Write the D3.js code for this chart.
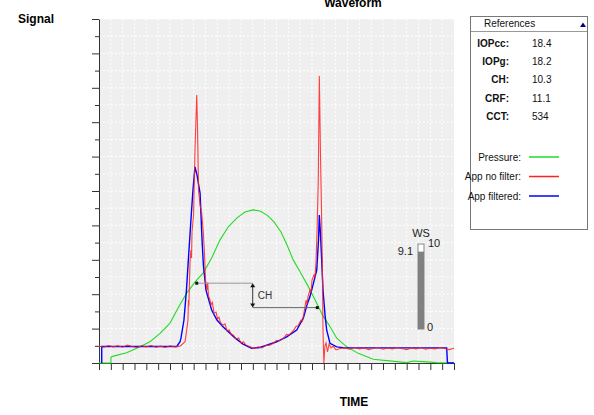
<!DOCTYPE html>
<html>
<head>
<meta charset="utf-8">
<script src="https://cdn.jsdelivr.net/npm/d3@7"></script>
<style>
  body { margin: 0; background: #fff; }
  svg { display: block; font-family: "Liberation Sans", Arial, sans-serif; }
  .narrow { font-family: "Liberation Sans Narrow", "Arial Narrow", "Liberation Sans", sans-serif; }
</style>
</head>
<body>
<svg id="chart" width="594" height="415"></svg>
<script>
// samples on x (0..300), signal on y (0..100)
var pressure = [[0,0],[10.1,0],[10.1,1.7],[12.1,2],[23.4,3],[34.6,4.7],[43.1,6.2],[51.6,8.6],[60,11.6],[66.8,16],
  [74.1,20.3],[81.1,23.5],[88.1,26.2],[95.2,30.5],[102.3,35.8],[109.3,39.6],[116.6,42.2],[123.4,43.9],[130.1,44.5],
  [136.1,44.2],[142,43],[147.9,41],[153.8,38.1],[158.9,34.3],[164.2,29.9],[169.9,26.5],[176.9,22.2],[184,17.4],
  [189.3,13.7],[195.2,10.6],[200.9,7.2],[209.3,4.7],[219.1,2.8],[231.8,1.1],[251.6,0.4],[260,0.1],[265.6,0.6],
  [274.1,0.4],[285.4,0.1],[299.2,0]];

var appFiltered = [[2.3,0],[2.3,4.8],[65.7,4.8],[68.5,6.2],[69.3,7.3],[71.8,12.5],[73.9,21.2],[75.5,29.9],[77.7,41.6],
  [79.4,50.3],[81.1,57],[82.8,54.7],[85.4,49.4],[87.1,35.8],[88.2,28.5],[90.4,21.2],[95.2,15.4],[99.7,12.5],
  [104.8,10.5],[114.9,7.3],[121.7,5.5],[129,4.3],[136,4.5],[141.7,5.2],[149.6,6.1],[158.6,7.6],[167.1,9.6],
  [172.7,13.1],[175.8,16.9],[178.3,19.3],[181.3,23.3],[184,27],[185.5,35.8],[186.2,43],[187.2,37.2],[188.2,29.9],
  [189.3,21.2],[191,14],[192.4,9.6],[195.2,5.7],[200.9,4.7],[207.9,4.4],[293.8,4.4],[294.5,0],[300,0]];

var appNoFilter = [[0,4.9],[4,4.6],[8,5.1],[12,4.7],[16,5.0],[20,4.6],[24,5.2],[28,4.8],[32,4.5],[36,5.0],[40,4.7],
  [44,5.1],[48,4.6],[52,4.9],[56,4.5],[60,5.0],[64,4.7],[68.5,4.9],[72.7,6.2],[74.1,9.6],[75.2,12.5],[75.6,18.3],
  [75.9,16.5],[76.4,22.7],[76.9,29.4],[77.7,32.8],[78.2,30.5],[78.6,38.1],[79.9,43],[81.1,61.9],[82.6,77.9],[83.3,67.7],
  [84.1,50.3],[85.4,45.9],[86.8,43.6],[88.2,37.8],[89.2,31.4],[90,24.1],[91.3,21.2],[91.9,23.4],[92.5,19.5],[93.6,18.6],
  [94.6,16.9],[95.8,17.6],[97.2,14.5],[98.9,14.8],[100.2,12.9],[101.4,13.3],[102.6,11.8],[104.8,11],[106.5,11.4],
  [108.2,9.3],[110,9.6],[111.6,8.4],[113.6,8.1],[115.8,7],[118,7.3],[120,5.8],[122,6.2],[124.2,5.2],
  [127.6,4.7],[131,4.2],[134.4,4.7],[137.7,4.4],[141.1,5.1],[144.5,5.2],[147.9,5.8],[150,6.6],[152.1,6.4],[156.3,7.3],
  [158.5,8.3],[160.6,8.1],[162.8,8.9],[164.8,9.6],[166.4,10.6],[168.2,10.8],[170.7,12.5],[172,12.2],[173.3,14.8],
  [175,18.3],[175.8,17.1],[176.6,19.2],[178.3,21.2],[179.2,20.4],[180,24.1],[181.7,25.6],[182.5,24.8],[183.4,29.4],
  [184.3,38.7],[185.3,53.2],[186.2,83.4],[187.1,61.9],[188.1,43],[188.9,24.1],[189.3,9.6],
  [190,0],[191,5.2],[191.9,5.8],[193.1,3.2],[194.4,5.5],[196.1,4.4],[197.8,4.9],[200.3,3.8],[203.7,4.2],[208,4.4],
  [212,4.0],[216,4.5],[220,4.1],[224,4.4],[228,3.9],[232,4.3],[236,4.5],[240,4.0],[244,4.4],[248,4.1],[252,4.5],
  [256,4.2],[260,3.9],[264,4.4],[268,4.1],[272,4.5],[276,4.0],[280,4.3],[284,4.1],[288,4.5],[292,4.2],[296,3.9],[300,4.3]];

var refLabels = ["IOPcc:", "IOPg:", "CH:", "CRF:", "CCT:"];
var refValues = ["18.4", "18.2", "10.3", "11.1", "534"];
var seriesNames = ["Pressure:", "App no filter:", "App filtered:"];
var seriesColors = ["#22dd22", "#ff2020", "#0000ff"];

var wsValue = 9.1, wsMax = 10;
var chLeft = [82.6, 23.2], chRight = [184.5, 16.1], chMidT = 129.9;

var svg = d3.select("#chart");
var x = d3.scaleLinear().domain([0, 300]).range([99, 454]);
var y = d3.scaleLinear().domain([0, 100]).range([363, 19]);

// plot background + dotted grid
svg.append("rect").attr("x", 99).attr("y", 19).attr("width", 355).attr("height", 344).attr("fill", "#efefef");
var grid = svg.append("g").attr("stroke", "#fff").attr("stroke-dasharray", "2,2").attr("stroke-width", 1);
grid.selectAll(".v").data(d3.range(10, 300, 10)).join("line")
  .attr("x1", d => x(d)).attr("x2", d => x(d)).attr("y1", 19).attr("y2", 363);
grid.selectAll(".h").data(d3.range(5, 101, 5)).join("line")
  .attr("x1", 99).attr("x2", 454).attr("y1", d => y(d)).attr("y2", d => y(d));

// axes with no labels
var yMajor = svg.append("g").attr("transform", "translate(99,0)")
  .call(d3.axisLeft(y).tickValues(d3.range(0, 101, 10)).tickSize(7).tickFormat("").tickSizeOuter(0));
var yMinor = svg.append("g").attr("transform", "translate(99,0)")
  .call(d3.axisLeft(y).tickValues(d3.range(5, 100, 10)).tickSize(4).tickFormat(""));
yMinor.select(".domain").remove();
var xAx = svg.append("g").attr("transform", "translate(0,363)")
  .call(d3.axisBottom(x).tickValues(d3.range(0, 301, 10)).tickSize(7).tickFormat("").tickSizeOuter(0));
svg.selectAll(".tick line, .domain").attr("stroke", "#333");

// waveforms
var line = d3.line().x(d => x(d[0])).y(d => y(d[1]));
svg.append("path").attr("d", line(pressure)).attr("fill", "none").attr("stroke", seriesColors[0]).attr("stroke-width", 1.1);
svg.append("path").attr("d", line(appFiltered)).attr("fill", "none").attr("stroke", seriesColors[2]).attr("stroke-width", 1.4);
svg.append("path").attr("d", line(appNoFilter)).attr("fill", "none").attr("stroke", seriesColors[1]).attr("stroke-width", 1.1).attr("opacity", 0.85);

// CH annotation
var ch = svg.append("g").attr("stroke", "#666").attr("stroke-width", 1).attr("fill", "none");
ch.append("line").attr("x1", x(chLeft[0])).attr("x2", x(chMidT)).attr("y1", y(chLeft[1])).attr("y2", y(chLeft[1])).attr("stroke", "#999");
ch.append("line").attr("x1", x(chMidT)).attr("x2", x(chRight[0])).attr("y1", y(chRight[1])).attr("y2", y(chRight[1]));
ch.append("line").attr("x1", x(chMidT)).attr("x2", x(chMidT)).attr("y1", y(chLeft[1]) + 3).attr("y2", y(chRight[1]) - 3).attr("stroke", "#333");
[[chLeft[1], -1], [chRight[1], 1]].forEach(function(a) {
  var cx = x(chMidT), cy = y(a[0]);
  svg.append("path").attr("fill", "#111")
    .attr("d", "M" + cx + "," + cy + "L" + (cx - 2.5) + "," + (cy - 4 * a[1]) + "L" + (cx + 2.5) + "," + (cy - 4 * a[1]) + "Z");
});
[chLeft, chRight].forEach(function(p) {
  svg.append("rect").attr("x", x(p[0]) - 1.5).attr("y", y(p[1]) - 1.5).attr("width", 3).attr("height", 3).attr("fill", "#111");
});
svg.append("text").attr("x", x(chMidT) + 5).attr("y", y(chLeft[1]) + 16).attr("font-size", 10).attr("fill", "#333").text("CH");

// WS gauge
var ws = d3.scaleLinear().domain([0, wsMax]).range([329, 244]);
svg.append("rect").attr("x", 418).attr("y", ws(wsMax)).attr("width", 6).attr("height", ws(0) - ws(wsMax))
  .attr("fill", "#fff").attr("stroke", "#888");
svg.append("rect").attr("x", 418).attr("y", ws(wsValue)).attr("width", 6).attr("height", ws(0) - ws(wsValue)).attr("fill", "#808080");
svg.append("text").attr("x", 421).attr("y", 237).attr("text-anchor", "middle").attr("font-size", 11).attr("fill", "#222").text("WS");
svg.append("text").attr("x", 428).attr("y", 247).attr("font-size", 11).attr("fill", "#222").text(wsMax);
svg.append("text").attr("x", 413).attr("y", 255).attr("text-anchor", "end").attr("font-size", 11).attr("fill", "#222").text(wsValue);
svg.append("text").attr("x", 427).attr("y", 331).attr("font-size", 11).attr("fill", "#222").text("0");

// titles (the reference crops the top of "Waveform")
svg.append("text").attr("x", 353).attr("y", 7).attr("text-anchor", "middle").attr("font-size", 12).attr("font-weight", "bold").text("Waveform");
svg.append("text").attr("x", 18).attr("y", 23).attr("font-size", 12).attr("font-weight", "bold").text("Signal");
svg.append("text").attr("x", 354).attr("y", 406).attr("text-anchor", "middle").attr("font-size", 12).attr("font-weight", "bold").text("TIME");

// references panel
var panel = svg.append("g");
panel.append("rect").attr("x", 470.5).attr("y", 16.5).attr("width", 117).attr("height", 213).attr("fill", "#fff").attr("stroke", "#777");
panel.append("line").attr("x1", 471).attr("x2", 587).attr("y1", 31.5).attr("y2", 31.5).attr("stroke", "#999");
panel.append("text").attr("x", 484).attr("y", 27).attr("font-size", 10).attr("class", "narrow").attr("fill", "#111").text("References");
panel.append("path").attr("d", "M580,27L583,22.5L586,27Z").attr("fill", "#000080");
panel.selectAll(".lab").data(refLabels).join("text")
  .attr("x", 509).attr("y", (d, i) => 47 + i * 18.2).attr("text-anchor", "end")
  .attr("font-size", 10).attr("font-weight", "bold").attr("fill", "#111").text(d => d);
panel.selectAll(".val").data(refValues).join("text")
  .attr("x", 532).attr("y", (d, i) => 47 + i * 18.2)
  .attr("font-size", 10).attr("class", "narrow").attr("fill", "#111").text(d => d);
seriesNames.forEach(function(name, i) {
  var yy = 157 + i * 19.5;
  panel.append("text").attr("x", 521).attr("y", yy + 3.5).attr("text-anchor", "end")
    .attr("font-size", 10).attr("class", "narrow").attr("fill", "#111").text(name);
  panel.append("line").attr("x1", 529).attr("x2", 559).attr("y1", yy).attr("y2", yy)
    .attr("stroke", seriesColors[i]).attr("stroke-width", 1.5);
});
</script>
</body>
</html>
